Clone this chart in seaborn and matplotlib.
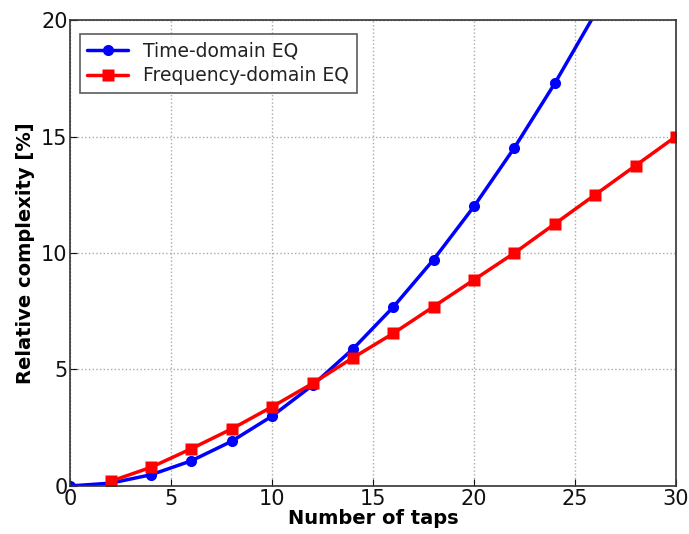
import numpy as np
import pandas as pd
import seaborn as sns
import matplotlib.pyplot as plt

# values
taps_time = [0, 2, 4, 6, 8, 10, 12, 14, 16, 18, 20, 22, 24, 26, 28]
cplx_time = [0.0, 0.12, 0.48, 1.08, 1.92, 3.0, 4.32, 5.88, 7.68, 9.72, 12.0,
             14.52, 17.28, 20.28, 23.5]
taps_freq = [2, 4, 6, 8, 10, 12, 14, 16, 18, 20, 22, 24, 26, 28, 30]
cplx_freq = [0.2, 0.8, 1.6, 2.45, 3.4, 4.4, 5.5, 6.55, 7.7, 8.85, 10.0,
             11.25, 12.5, 13.75, 15.0]

df = pd.concat([
    pd.DataFrame({"taps": taps_time, "cplx": cplx_time,
                  "eq": "Time-domain EQ"}),
    pd.DataFrame({"taps": taps_freq, "cplx": cplx_freq,
                  "eq": "Frequency-domain EQ"}),
])

sns.set_style("ticks")
plt.rcParams['font.family'] = ['DejaVu Sans']

fig = plt.figure(figsize=(6.89, 5.34), dpi=100)
ax = fig.add_axes([0.102, 0.09, 0.879, 0.8725])

sns.lineplot(data=df, x="taps", y="cplx", hue="eq", style="eq",
             palette={"Time-domain EQ": "#0000ff",
                      "Frequency-domain EQ": "#ff0000"},
             markers={"Time-domain EQ": "o", "Frequency-domain EQ": "s"},
             dashes=False, linewidth=2.5, markersize=8,
             markeredgecolor="none", ax=ax)

ax.set_xlim(0, 30)
ax.set_ylim(0, 20)
ax.set_xticks([0, 5, 10, 15, 20, 25, 30])
ax.set_yticks([0, 5, 10, 15, 20])
ax.grid(True, linestyle=":", color="#aaaaaa", linewidth=1)
ax.set_axisbelow(True)
for s in ax.spines.values():
    s.set_color("#333333")
    s.set_linewidth(1.2)
ax.tick_params(axis="both", labelsize=15, direction="in", length=5,
               colors="#111111", pad=2)
ax.set_xlabel("Number of taps", fontsize=14, fontweight="bold", labelpad=0,
              color="black")
ax.set_ylabel("Relative complexity [%]", fontsize=14, fontweight="bold",
              labelpad=4, color="black")

leg = ax.legend(loc="upper left", fontsize=13.5, frameon=True, fancybox=False,
                handlelength=2.2, borderpad=0.4, labelspacing=0.3,
                bbox_to_anchor=(0.0, 0.99))
leg.get_frame().set_edgecolor("#333333")
leg.get_frame().set_linewidth(1.2)
for t in leg.get_texts():
    t.set_color("#222222")

plt.savefig("out.png", dpi=100)
